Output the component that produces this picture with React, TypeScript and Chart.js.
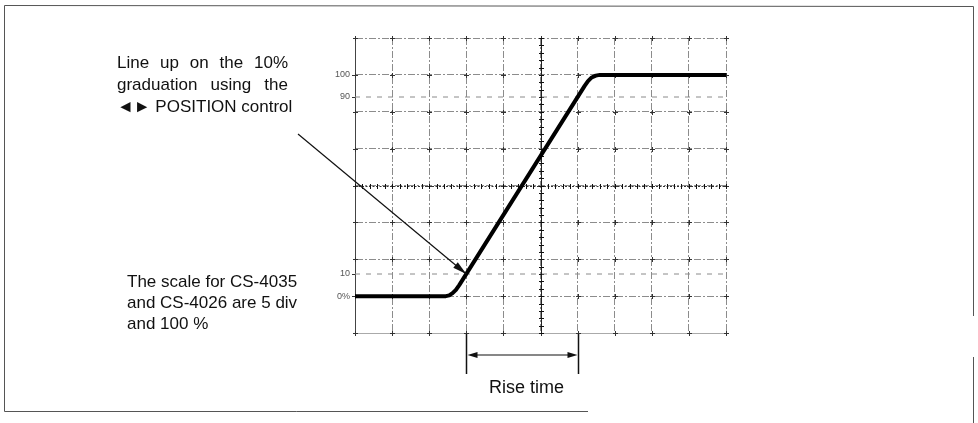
import React, { useEffect, useRef } from "react";
import { Chart, registerables } from "chart.js";

Chart.register(...registerables);

// Graticule: 10 x 8 divisions
const xDivs = 10;
const yDivs = 8;

// Step response trace (x in divisions, y in divisions from the bottom)
const riseX = [0, 2.45, 2.54, 2.63, 2.72, 2.81, 6.19, 6.28, 6.38, 6.49, 6.6, 10];
const riseY = [1, 1, 1.02, 1.08, 1.17, 1.3, 6.7, 6.83, 6.93, 6.98, 7, 7];

// Level labels at the left of the graticule
const levelLabels = ["100", "90", "10", "0%"];
const levelValues = [7, 6.4, 1.6, 1];
const dashedLevels = [6.4, 1.6];

// Rise time markers (10% and 90% crossings)
const riseStartX = 3;
const riseEndX = 6;
const tenPercentY = 1.6;
const riseLabel = "Rise time";

const noteTop = ["Line up on the 10%", "graduation using the", "◄► POSITION control"];
const noteBottom = ["The scale for CS-4035", "and CS-4026 are 5 div", "and 100 %"];

const FONT = "Liberation Sans, Arial, Helvetica, sans-serif";

function drawJustified(ctx: CanvasRenderingContext2D, text: string, x0: number, x1: number, y: number) {
  const words = text.split(" ");
  if (words.length < 2) {
    ctx.fillText(text, x0, y);
    return;
  }
  const widths = words.map((w) => ctx.measureText(w).width);
  const total = widths.reduce((a, b) => a + b, 0);
  const gap = (x1 - x0 - total) / (words.length - 1);
  let cx = x0;
  words.forEach((w, i) => {
    ctx.fillText(w, cx, y);
    cx += widths[i] + gap;
  });
}

function arrowHead(ctx: CanvasRenderingContext2D, fx: number, fy: number, tx: number, ty: number, len: number, half: number) {
  const ang = Math.atan2(ty - fy, tx - fx);
  const bx = tx - len * Math.cos(ang);
  const by = ty - len * Math.sin(ang);
  ctx.beginPath();
  ctx.moveTo(tx, ty);
  ctx.lineTo(bx + half * Math.sin(ang), by - half * Math.cos(ang));
  ctx.lineTo(bx - half * Math.sin(ang), by + half * Math.cos(ang));
  ctx.closePath();
  ctx.fill();
}

const overlay = {
  id: "overlay",
  beforeDatasetsDraw(chart: any) {
    const { ctx } = chart;
    const x = chart.scales.x;
    const y = chart.scales.y;
    ctx.save();
    ctx.lineWidth = 1;
    // crosses at intersections
    ctx.strokeStyle = "#333";
    for (let i = 0; i <= xDivs; i++) {
      for (let j = 0; j <= yDivs; j++) {
        const px = Math.round(x.getPixelForValue(i)) + 0.5;
        const py = Math.round(y.getPixelForValue(j)) + 0.5;
        ctx.beginPath();
        ctx.moveTo(px - 2.5, py);
        ctx.lineTo(px + 2.5, py);
        ctx.moveTo(px, py - 2.5);
        ctx.lineTo(px, py + 2.5);
        ctx.stroke();
      }
    }
    // centre axes with minor ticks
    const cx = Math.round(x.getPixelForValue(xDivs / 2)) + 0.5;
    const cy = Math.round(y.getPixelForValue(yDivs / 2)) + 0.5;
    ctx.strokeStyle = "#222";
    ctx.beginPath();
    ctx.moveTo(cx, y.top);
    ctx.lineTo(cx, y.bottom);
    ctx.stroke();
    ctx.strokeStyle = "#333";
    ctx.setLineDash([2, 1.5]);
    ctx.beginPath();
    ctx.moveTo(x.left, cy);
    ctx.lineTo(x.right, cy);
    ctx.stroke();
    ctx.setLineDash([]);
    ctx.strokeStyle = "#111";
    for (let k = 0; k <= xDivs * 5; k++) {
      const px = Math.round(x.getPixelForValue(k / 5)) + 0.5;
      ctx.beginPath();
      ctx.moveTo(px, cy - 2.5);
      ctx.lineTo(px, cy + 2.5);
      ctx.stroke();
    }
    for (let k = 0; k <= yDivs * 5; k++) {
      const py = Math.round(y.getPixelForValue(k / 5)) + 0.5;
      ctx.beginPath();
      ctx.moveTo(cx - 2.5, py);
      ctx.lineTo(cx + 2.5, py);
      ctx.stroke();
    }
    // level labels
    ctx.fillStyle = "#555";
    ctx.font = `9px ${FONT}`;
    ctx.textAlign = "right";
    ctx.textBaseline = "middle";
    levelLabels.forEach((lab, i) => {
      const py = y.getPixelForValue(levelValues[i]);
      ctx.fillText(lab, x.left - 5, py);
      ctx.strokeStyle = "#333";
      ctx.beginPath();
      ctx.moveTo(x.left - 3, Math.round(py) + 0.5);
      ctx.lineTo(x.left, Math.round(py) + 0.5);
      ctx.stroke();
    });
    ctx.restore();
  },
  afterDraw(chart: any) {
    const { ctx } = chart;
    const x = chart.scales.x;
    const y = chart.scales.y;
    ctx.save();
    // outer frame
    ctx.strokeStyle = "#555";
    ctx.lineWidth = 1;
    ctx.beginPath();
    ctx.moveTo(4.5, 5.5);
    ctx.lineTo(973.5, 6.5);
    ctx.moveTo(4.5, 5.5);
    ctx.lineTo(4.5, 411.5);
    ctx.lineTo(588, 411.5);
    ctx.moveTo(973.5, 6.5);
    ctx.lineTo(973.5, 316);
    ctx.moveTo(973.5, 357);
    ctx.lineTo(973.5, 423);
    ctx.stroke();

    // notes
    ctx.fillStyle = "#111";
    ctx.font = `17px ${FONT}`;
    ctx.textBaseline = "middle";
    ctx.textAlign = "left";
    const topY = [63, 85, 107];
    drawJustified(ctx, noteTop[0], 117, 288, topY[0]);
    drawJustified(ctx, noteTop[1], 117, 288, topY[1]);
    ctx.fillText(noteTop[2], 117, topY[2]);
    const botY = [282, 303, 324];
    noteBottom.forEach((t, i) => ctx.fillText(t, 127, botY[i]));

    // pointer arrow to the 10% crossing
    const tx = x.getPixelForValue(riseStartX);
    const ty = y.getPixelForValue(tenPercentY);
    const sx = 298;
    const sy = 134;
    ctx.strokeStyle = "#111";
    ctx.lineWidth = 1.2;
    ctx.beginPath();
    ctx.moveTo(sx, sy);
    ctx.lineTo(tx, ty);
    ctx.stroke();
    arrowHead(ctx, sx, sy, tx, ty, 14, 3.5);

    // rise time markers
    const ax = Math.round(x.getPixelForValue(riseStartX)) + 0.5;
    const bx = Math.round(x.getPixelForValue(riseEndX)) + 0.5;
    const top = y.bottom + 1;
    const bot = top + 40;
    const my = top + 21;
    ctx.lineWidth = 1.5;
    ctx.beginPath();
    ctx.moveTo(ax, top);
    ctx.lineTo(ax, bot);
    ctx.moveTo(bx, top);
    ctx.lineTo(bx, bot);
    ctx.stroke();
    ctx.lineWidth = 1.2;
    ctx.beginPath();
    ctx.moveTo(ax + 8, my);
    ctx.lineTo(bx - 8, my);
    ctx.stroke();
    arrowHead(ctx, bx, my, ax + 1, my, 10, 3);
    arrowHead(ctx, ax, my, bx - 1, my, 10, 3);
    ctx.font = `18px ${FONT}`;
    ctx.textAlign = "center";
    ctx.fillText(riseLabel, (ax + bx) / 2 + 4, 388);
    ctx.restore();
  },
};

export default function App() {
  const ref = useRef<HTMLCanvasElement | null>(null);
  useEffect(() => {
    if (!ref.current) return;
    const trace = riseX.map((v, i) => ({ x: v, y: riseY[i] }));
    const dashed = dashedLevels.map((lv) => ({
      data: [
        { x: 0, y: lv },
        { x: xDivs, y: lv },
      ],
      borderColor: "#8a8a8a",
      borderWidth: 1,
      borderDash: [5, 6],
      pointRadius: 0,
      showLine: true,
      fill: false,
    }));
    const chart = new Chart(ref.current, {
      type: "scatter",
      data: {
        datasets: [
          {
            data: trace,
            borderColor: "#000",
            borderWidth: 4,
            pointRadius: 0,
            showLine: true,
            tension: 0,
            borderJoinStyle: "round",
            borderCapStyle: "butt",
            fill: false,
          } as any,
          ...dashed,
        ],
      },
      options: {
        responsive: false,
        animation: false,
        devicePixelRatio: 1,
        layout: { padding: { left: 355, right: 252, top: 38, bottom: 90 } },
        plugins: { legend: { display: false }, tooltip: { enabled: false } },
        events: [],
        scales: {
          x: {
            type: "linear",
            min: 0,
            max: xDivs,
            ticks: { display: false, stepSize: 1 },
            grid: { color: "#8c8c8c", lineWidth: 1, drawTicks: false },
            border: { display: true, color: "#aaa", width: 1, dash: [7, 2, 2, 2] },
            afterFit: (s: any) => {
              s.height = 0;
            },
          },
          y: {
            type: "linear",
            min: 0,
            max: yDivs,
            ticks: { display: false, stepSize: 1 },
            grid: { color: "#8c8c8c", lineWidth: 1, drawTicks: false },
            border: { display: true, color: "#444", width: 1, dash: [7, 2, 2, 2] },
            afterFit: (s: any) => {
              s.width = 0;
            },
          },
        },
      } as any,
      plugins: [overlay],
    });
    return () => chart.destroy();
  }, []);
  return (
    <div style={{ position: "absolute", left: 0, top: 0, width: 978, height: 423, background: "#fff" }}>
      <canvas ref={ref} width={978} height={423} style={{ width: 978, height: 423, display: "block" }} />
    </div>
  );
}
